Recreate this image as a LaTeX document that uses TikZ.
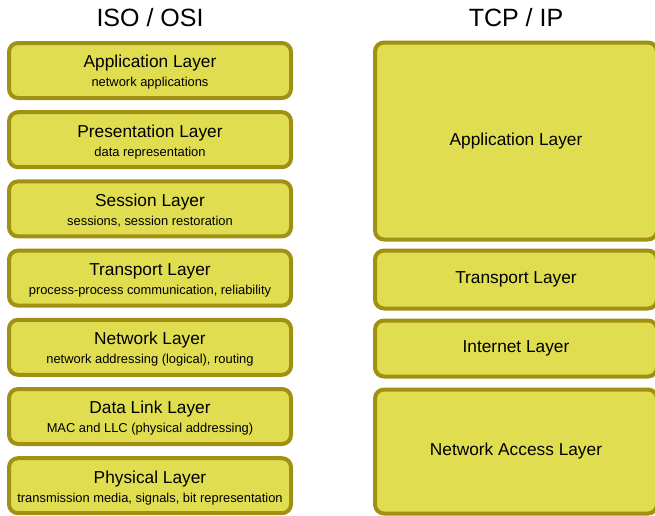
\documentclass[tikz,border=0pt]{standalone}
\usepackage{fontspec}
\setmainfont{Liberation Sans}
\usepackage{xcolor}
\usepackage{tikz}
\definecolor{layerfill}{RGB}{224,222,80}
\definecolor{layerline}{RGB}{160,145,20}
\newcommand{\layernote}[1]{{\fontsize{12.9}{15}\selectfont #1}}
\newcommand{\layertext}[2]{\rule{0pt}{16.5pt}#1\\[-1pt]\layernote{#2}}

\begin{document}
\begin{tikzpicture}[x=1pt,y=-1pt,
        layer/.style={draw=layerline, fill=layerfill, line width=4pt,
            rounded corners=9pt, minimum width=282pt, inner sep=0pt,
            align=center, font=\fontsize{17.3}{20}\selectfont},
        osi/.style={layer, minimum height=55pt},
        title/.style={font=\fontsize{25}{30}\selectfont}]
        \useasboundingbox (0,0) rectangle (655,515);
        \clip (0,0) rectangle (655,515);

        \node[title] (isotitle) at (150,18) {ISO / OSI};
        \node[title] (tcptitle) at (516,18) {TCP / IP};

        \node[osi] (app)  at (150,70.5)  {\layertext{Application Layer}{network applications}};
        \node[osi] (pres) at (150,139.7) {\layertext{Presentation Layer}{data representation}};
        \node[osi] (sess) at (150,208.9) {\layertext{Session Layer}{sessions, session restoration}};
        \node[osi] (trans) at (150,278.1) {\layertext{Transport Layer}{process-process communication, reliability}};
        \node[osi] (net)  at (150,347.3) {\layertext{Network Layer}{network addressing (logical), routing}};
        \node[osi] (link) at (150,416.5) {\layertext{Data Link Layer}{MAC and LLC (physical addressing)}};
        \node[osi] (phys) at (150,485.7) {\layertext{Physical Layer}{transmission media, signals, bit representation}};

        \node[layer, minimum height=197pt] (tcpapp)   at (516,141) {Application Layer};
        \node[layer, minimum height=58pt]  (tcptrans) at (516,279.5) {Transport Layer};
        \node[layer, minimum height=56pt]  (tcpnet)   at (516,348.5) {Internet Layer};
        \node[layer, minimum height=124pt] (tcplink)  at (516,451.5) {Network Access Layer};
    \end{tikzpicture}
\end{document}
